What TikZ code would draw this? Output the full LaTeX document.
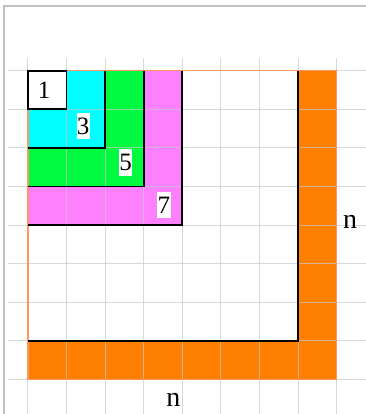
\documentclass[tikz,border=0pt]{standalone}
\usepackage{fontspec}
\setmainfont{Liberation Serif}
\usepackage{tikz}

\definecolor{sqcyan}{RGB}{0,255,255}
\definecolor{sqgreen}{RGB}{0,250,64}
\definecolor{sqpink}{RGB}{255,128,255}
\definecolor{sqorange}{RGB}{255,128,0}
\definecolor{rimorange}{RGB}{255,150,100}
\definecolor{gridgray}{RGB}{200,200,200}
\definecolor{framegray}{RGB}{192,192,192}

\tikzset{
  gridline/.style  = {draw=gridgray, line width=1pt, opacity=0.7},
  frameline/.style = {draw=framegray, line width=2pt},
  rimline/.style   = {draw=rimorange, line width=1.2pt},
  sqedge/.style    = {draw=black, line width=1.8pt},
  numlbl/.style    = {fill=white, inner xsep=0.4pt, inner ysep=5pt,
                      font=\fontsize{25}{25}\selectfont},
  nlbl/.style      = {anchor=base, inner sep=0pt,
                      font=\fontsize{28}{28}\selectfont},
}

\begin{document}
\begin{tikzpicture}[x=38.6pt, y=-38.6pt]
  \useasboundingbox (-0.725,-1.829) rectangle (8.756,8.896);
  % window frame
  \draw[frameline] (-0.622,8.896) -- (-0.622,-1.674) -- (8.756,-1.674);

  % the odd squares and the orange rim of n
  \fill[sqorange] (7,0) rectangle (8,8);
  \fill[sqorange] (0,7) rectangle (8,8);
  \fill[sqpink]  (0,0) rectangle (4,4);
  \fill[sqgreen] (0,0) rectangle (3,3);
  \fill[sqcyan]  (0,0) rectangle (2,2);
  \fill[white]   (0,0) rectangle (1,1);

  % grid
  \foreach \i in {0,...,8} {
    \draw[gridline] (\i,-0.326) -- (\i,8.896);
    \draw[gridline] (-0.518,\i) -- (8.756,\i);
  }
  \draw[rimline] (0,0) rectangle (8,8);

  % borders of the squares
  \draw[sqedge] (0,0) rectangle (1,1);
  \foreach \k in {2,3,4,7}
    \draw[sqedge] (\k,0) -- (\k,\k) -- (0,\k);

  \node[numlbl, fill=none] (one) at (0.42,0.52) {1};
  \node[numlbl] (three) at (1.43,1.435) {3};
  \node[numlbl] (five)  at (2.53,2.38) {5};
  \node[numlbl] (seven) at (3.52,3.48) {7};
  \node[nlbl] (nright)  at (8.342,4.078) {n};
  \node[nlbl] (nbottom) at (3.765,8.689) {n};
\end{tikzpicture}
\end{document}
